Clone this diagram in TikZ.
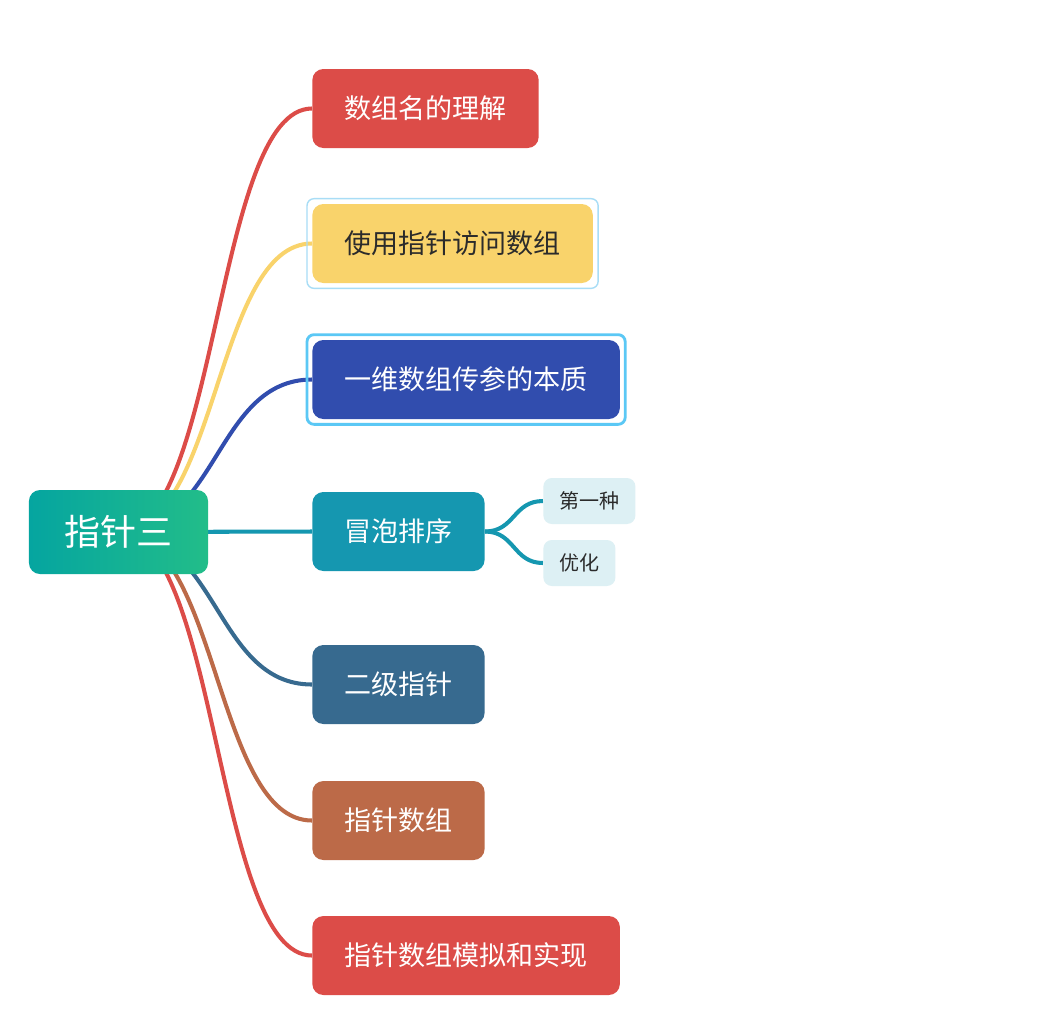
\documentclass[tikz,border=0pt]{standalone}
\usepackage{fontspec}
\setmainfont{Noto Sans CJK SC}
\usepackage{xcolor}
\usepackage{tikz}
\usetikzlibrary{backgrounds}
\definecolor{rootTeal}{HTML}{05A5A0}
\definecolor{rootGreen}{HTML}{22BD89}
\definecolor{mapRed}{HTML}{DC4C48}
\definecolor{mapYellow}{HTML}{F9D36B}
\definecolor{mapBlue}{HTML}{314DAE}
\definecolor{mapTeal}{HTML}{1597B0}
\definecolor{mapSlate}{HTML}{376A8F}
\definecolor{mapBrown}{HTML}{BC6A48}
\definecolor{subFill}{HTML}{DDF0F4}
\definecolor{textDark}{HTML}{2B2B2B}
\definecolor{selFaint}{HTML}{A8DDF6}
\definecolor{selStrong}{HTML}{5BC8F5}

\begin{document}
\begin{tikzpicture}[x=0.02cm, y=-0.02cm,
  topic/.style={rounded corners=0.22cm, minimum height=1.58cm, inner xsep=0.64cm,
    text=white, font=\fontsize{15.4pt}{18pt}\selectfont, anchor=west},
  subtopic/.style={rounded corners=0.17cm, fill=subFill, minimum height=0.92cm,
    inner xsep=0.32cm, text=textDark, font=\fontsize{11.4pt}{14pt}\selectfont, anchor=west},
  branch/.style={line width=2.3pt},
  selbox/.style={rounded corners=0.14cm}]
  \useasboundingbox (0,0) rectangle (1050,1032);

  \node[rounded corners=0.22cm, left color=rootTeal, right color=rootGreen, text=white,
    minimum height=1.68cm, inner xsep=0.71cm, font=\fontsize{20.5pt}{24pt}\selectfont]
    (root) at (118.5,532) {指针三};

  \node[topic, fill=mapRed] (arrname) at (312,108.5) {数组名的理解};
  \node[topic, fill=mapYellow, text=textDark] (access) at (312,243.5) {使用指针访问数组};
  \node[topic, fill=mapBlue] (param) at (312,379.5) {一维数组传参的本质};
  \node[topic, fill=mapTeal] (bubble) at (312,531.5) {冒泡排序};
  \node[topic, fill=mapSlate] (second) at (312,684.5) {二级指针};
  \node[topic, fill=mapBrown] (ptrarr) at (312,820.5) {指针数组};
  \node[topic, fill=mapRed] (simul) at (312,955.5) {指针数组模拟和实现};

  \node[subtopic] (first) at (543,501) {第一种};
  \node[subtopic] (optim) at (543,563) {优化};

  \draw[selbox, selFaint, line width=0.8pt]
    ([xshift=-0.1cm,yshift=0.1cm]access.north west) rectangle ([xshift=0.1cm,yshift=-0.1cm]access.south east);
  \draw[selbox, selStrong, line width=1.6pt]
    ([xshift=-0.1cm,yshift=0.1cm]param.north west) rectangle ([xshift=0.1cm,yshift=-0.1cm]param.south east);

  \begin{scope}[on background layer]
    \fill[white] (0,0) rectangle (1050,1032);
    \draw[branch, mapRed] (root.center) .. controls ([xshift=2cm]root.center) and ([xshift=-1.94cm]arrname.west) .. (arrname.west);
    \draw[branch, mapYellow] (root.center) .. controls ([xshift=2cm]root.center) and ([xshift=-1.94cm]access.west) .. (access.west);
    \draw[branch, mapBlue] (root.center) .. controls ([xshift=2cm]root.center) and ([xshift=-1.94cm]param.west) .. (param.west);
    \draw[branch, mapTeal] (root.center) -- (bubble.west);
    \draw[branch, mapSlate] (root.center) .. controls ([xshift=2cm]root.center) and ([xshift=-1.94cm]second.west) .. (second.west);
    \draw[branch, mapBrown] (root.center) .. controls ([xshift=2cm]root.center) and ([xshift=-1.94cm]ptrarr.west) .. (ptrarr.west);
    \draw[branch, mapRed] (root.center) .. controls ([xshift=2cm]root.center) and ([xshift=-1.94cm]simul.west) .. (simul.west);
    \draw[branch, mapTeal] (bubble.east) .. controls ([xshift=0.6cm]bubble.east) and ([xshift=-0.6cm]first.west) .. (first.west);
    \draw[branch, mapTeal] (bubble.east) .. controls ([xshift=0.6cm]bubble.east) and ([xshift=-0.6cm]optim.west) .. (optim.west);
  \end{scope}
\end{tikzpicture}
\end{document}
